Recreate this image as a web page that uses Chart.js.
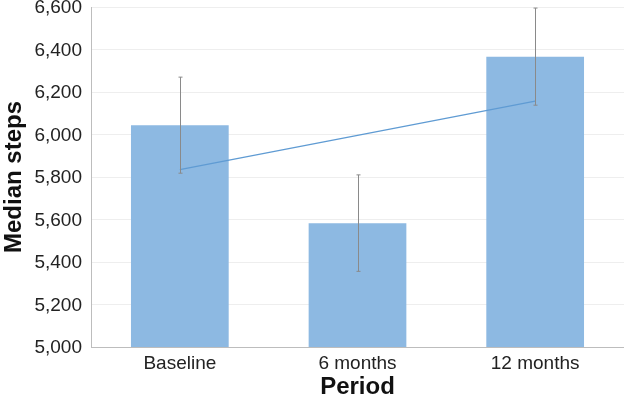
<!DOCTYPE html>
<html>
<head>
<meta charset="utf-8">
<script src="https://cdn.jsdelivr.net/npm/chart.js@4"></script>
<style>
    html, body { margin: 0; padding: 0; background: #fff; }
    #wrap { width: 624px; height: 402px; }
</style>
</head>
<body>
<div id="wrap"><canvas id="stepsChart" width="624" height="402"></canvas></div>
<script>
// ====== DATA ======
const periods = ['Baseline', '6 months', '12 months']
const medianSteps = [6043, 5582, 6366]
const errLow = [5818, 5356, 6138]
const errHigh = [6270, 5810, 6595]
const trendSteps = [5835, 5996, 6157]

// ====== ERROR BAR PLUGIN ======
const errorBars = {
    id: 'errorBars',
    afterDatasetsDraw(chart) {
        const { ctx, scales } = chart
        const x = scales.x
        const y = scales.y
        ctx.save()
        ctx.strokeStyle = '#8a8a8a'
        ctx.lineWidth = 1
        periods.forEach((p, i) => {
            const px = Math.round(x.getPixelForValue(i)) + 0.5
            const top = y.getPixelForValue(errHigh[i])
            const bot = y.getPixelForValue(errLow[i])
            ctx.beginPath()
            ctx.moveTo(px, top)
            ctx.lineTo(px, bot)
            ctx.moveTo(px - 2, top)
            ctx.lineTo(px + 2, top)
            ctx.moveTo(px - 2, bot)
            ctx.lineTo(px + 2, bot)
            ctx.stroke()
        })
        ctx.restore()
    },
}

// ====== CHART ======
const ctx = document.getElementById('stepsChart').getContext('2d')
new Chart(ctx, {
    data: {
        labels: periods,
        datasets: [
            {
                type: 'line',
                data: trendSteps,
                borderColor: '#5f9bd3',
                borderWidth: 1.3,
                pointRadius: 0,
                fill: false,
                order: 0,
            },
            {
                type: 'bar',
                data: medianSteps,
                backgroundColor: '#8db9e2',
                categoryPercentage: 1,
                barPercentage: 0.55,
                order: 1,
            },
        ],
    },
    options: {
        responsive: false,
        animation: false,
        layout: { padding: 0 },
        plugins: {
            legend: { display: false },
            tooltip: { enabled: false },
        },
        scales: {
            x: {
                grid: { display: false },
                border: { color: '#bdbdbd' },
                afterFit: (s) => {
                    s.height = 55
                },
                ticks: {
                    color: '#222',
                    font: { family: 'Liberation Sans, Arial', size: 19 },
                    padding: -3,
                },
                title: {
                    display: true,
                    text: 'Period',
                    color: '#111',
                    font: { family: 'Liberation Sans, Arial', size: 24, weight: 'bold' },
                    padding: 0,
                },
            },
            y: {
                min: 5000,
                max: 6600,
                afterFit: (s) => {
                    s.width = 91
                    s.paddingTop = 7
                },
                ticks: {
                    stepSize: 200,
                    color: '#222',
                    font: { family: 'Liberation Sans, Arial', size: 19 },
                    padding: 9,
                    labelOffset: 1,
                    callback: (v) => v.toLocaleString('en-US'),
                },
                grid: { color: '#eeeeee', drawTicks: false },
                border: { color: '#bdbdbd' },
                title: {
                    display: true,
                    text: 'Median steps',
                    color: '#111',
                    font: { family: 'Liberation Sans, Arial', size: 24, weight: 'bold' },
                    padding: 0,
                },
            },
        },
    },
    plugins: [errorBars],
})
</script>
</body>
</html>
